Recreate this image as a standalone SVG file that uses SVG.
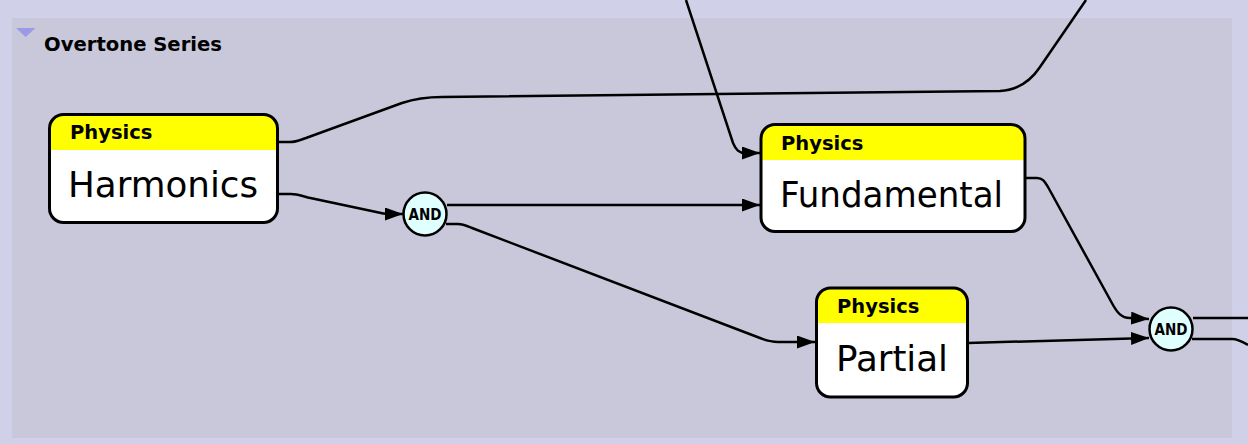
<svg xmlns="http://www.w3.org/2000/svg" width="1248" height="444" viewBox="0 0 1248 444">
<style>
.edge{fill:none;stroke:#000;stroke-width:2.5}
.box{fill:none;stroke:#000;stroke-width:3}
.hdr{font-family:"DejaVu Sans",sans-serif;font-weight:bold;font-size:19.5px;fill:#000}
.lbl{font-family:"DejaVu Sans",sans-serif;font-size:36px;fill:#000}
.and{fill:#e0ffff;stroke:#000;stroke-width:2.5}
.andt{font-family:"DejaVu Sans",sans-serif;font-weight:bold;font-size:15px;fill:#000;text-anchor:middle}
</style>
<defs>
<marker id="arr" markerUnits="userSpaceOnUse" markerWidth="20" markerHeight="14" refX="18" refY="6.5" orient="auto">
<path d="M0,0 L18,6.5 L0,13 Z" fill="#000"/>
</marker>
</defs>
<rect x="0" y="0" width="1248" height="444" fill="#d0d0e8"/>
<g id="group-overtone">
<rect x="12" y="18" width="1220" height="420" fill="#c8c8da"/>
<polygon points="16,28 35.5,28 25.7,37" fill="#9a9ae6"/>
<text x="44" y="50.5" class="hdr" font-size="20" textLength="178" lengthAdjust="spacingAndGlyphs">Overtone Series</text>
</g>
<g id="connectors">
<path class="edge" d="M278,142 L290,142 C296,142 300,140 306,138 L402,103 C414,99 425,97 442,97 L1000,91 C1018,90 1030,82 1040,67 L1086,0"/>
<path class="edge" d="M278,194 L291,194 C297,194 302,196 308,197.5 L381,213 C385,214 389,214 393,214 L403,214" marker-end="url(#arr)"/>
<path class="edge" d="M686,0 L733,143 C736,150 739,153 745,153 L760,153" marker-end="url(#arr)"/>
<path class="edge" d="M447,205 L760,205" marker-end="url(#arr)"/>
<path class="edge" d="M446,224 L458,224 C463,224 467,226 472,228 L760,338 C765,340 770,342 778,342 L815,342" marker-end="url(#arr)"/>
<path class="edge" d="M1025,178 L1037,178 C1043,178 1045,182 1048,187 L1113,305 C1117,312 1121,318 1130,318 L1149,319" marker-end="url(#arr)"/>
<path class="edge" d="M968,343 L1149,338" marker-end="url(#arr)"/>
<path class="edge" d="M1193,318 L1248,318"/>
<path class="edge" d="M1192,339 L1232,339 C1238,339 1243,342 1248,345"/>
</g>
<g id="node-harmonics">
<rect x="49.5" y="114.5" width="228" height="108" rx="14" fill="#fff"/>
<path d="M49.5,150 L49.5,128.5 A14,14 0 0 1 63.5,114.5 L263.5,114.5 A14,14 0 0 1 277.5,128.5 L277.5,150 Z" fill="#ff0"/>
<rect class="box" x="49.5" y="114.5" width="228" height="108" rx="14"/>
<text x="70" y="139" class="hdr">Physics</text>
<text x="68" y="197" class="lbl" textLength="190" lengthAdjust="spacingAndGlyphs">Harmonics</text>
</g>
<g id="node-fundamental">
<rect x="761" y="124.5" width="264" height="107" rx="14" fill="#fff"/>
<path d="M761,160 L761,138.5 A14,14 0 0 1 775,124.5 L1011,124.5 A14,14 0 0 1 1025,138.5 L1025,160 Z" fill="#ff0"/>
<rect class="box" x="761" y="124.5" width="264" height="107" rx="14"/>
<text x="781" y="150" class="hdr">Physics</text>
<text x="780" y="206.5" class="lbl" textLength="223" lengthAdjust="spacingAndGlyphs">Fundamental</text>
</g>
<g id="node-partial">
<rect x="816.5" y="288" width="151" height="109" rx="14" fill="#fff"/>
<path d="M816.5,323 L816.5,302 A14,14 0 0 1 830.5,288 L953.5,288 A14,14 0 0 1 967.5,302 L967.5,323 Z" fill="#ff0"/>
<rect class="box" x="816.5" y="288" width="151" height="109" rx="14"/>
<text x="837" y="313" class="hdr">Physics</text>
<text x="836" y="370.5" class="lbl" textLength="112" lengthAdjust="spacingAndGlyphs">Partial</text>
</g>
<g id="and-1">
<circle class="and" cx="425" cy="214" r="21.5"/>
<text x="425" y="219.5" class="andt" textLength="33" lengthAdjust="spacingAndGlyphs">AND</text>
</g>
<g id="and-2">
<circle class="and" cx="1171" cy="329" r="21.5"/>
<text x="1171" y="334.5" class="andt" textLength="33" lengthAdjust="spacingAndGlyphs">AND</text>
</g>
</svg>
